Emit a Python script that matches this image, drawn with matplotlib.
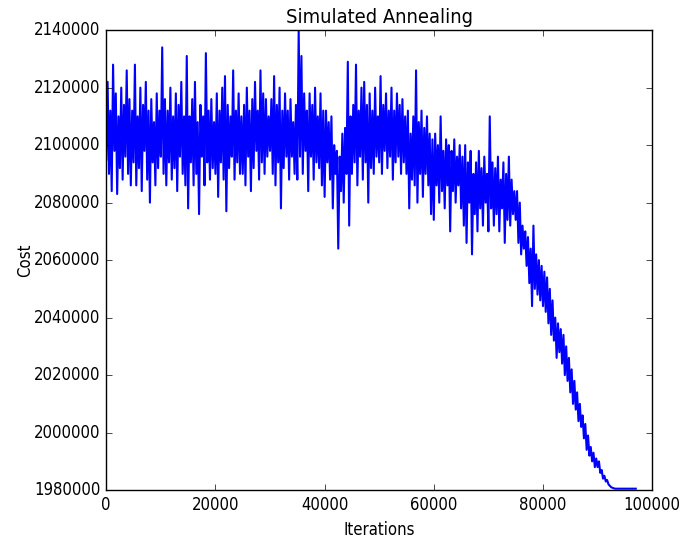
import matplotlib
matplotlib.use("Agg")
import matplotlib.pyplot as plt
import numpy as np

# cost in thousands, one reading every 250 iterations
iterations = np.arange(0, 97001, 250)
cost_k = [
    2095, 2122, 2090, 2112, 2084, 2128, 2098, 2118, 2083, 2110, 2092, 2120, 2088, 2114, 2096, 2126, 2090, 2116, 2086, 2112,
    2094, 2128, 2086, 2110, 2092, 2120, 2084, 2114, 2098, 2122, 2088, 2112, 2080, 2116, 2094, 2108, 2086, 2118, 2092, 2112,
    2096, 2134, 2090, 2116, 2086, 2112, 2094, 2120, 2088, 2110, 2092, 2118, 2084, 2114, 2096, 2122, 2090, 2110, 2086, 2131,
    2078, 2110, 2094, 2116, 2086, 2122, 2090, 2108, 2076, 2114, 2096, 2110, 2086, 2132, 2094, 2112, 2088, 2116, 2092, 2108,
    2090, 2118, 2082, 2112, 2094, 2120, 2088, 2124, 2077, 2114, 2092, 2110, 2096, 2126, 2088, 2112, 2094, 2118, 2090, 2110,
    2090, 2114, 2086, 2120, 2096, 2112, 2084, 2116, 2092, 2122, 2098, 2112, 2088, 2126, 2094, 2118, 2090, 2116, 2096, 2110,
    2098, 2116, 2090, 2124, 2086, 2114, 2094, 2120, 2078, 2112, 2092, 2118, 2096, 2112, 2088, 2116, 2096, 2108, 2090, 2114,
    2088, 2140, 2096, 2131, 2090, 2118, 2098, 2112, 2084, 2118, 2096, 2114, 2088, 2120, 2094, 2110, 2092, 2118, 2086, 2112,
    2082, 2112, 2094, 2108, 2088, 2110, 2078, 2100, 2090, 2098, 2064, 2096, 2084, 2104, 2080, 2106, 2090, 2129, 2072, 2110,
    2090, 2114, 2094, 2128, 2086, 2112, 2096, 2120, 2088, 2122, 2094, 2114, 2080, 2118, 2092, 2112, 2090, 2120, 2096, 2110,
    2094, 2124, 2090, 2114, 2098, 2118, 2092, 2112, 2096, 2120, 2088, 2112, 2094, 2118, 2096, 2114, 2090, 2116, 2094, 2110,
    2090, 2112, 2078, 2104, 2088, 2110, 2086, 2126, 2080, 2108, 2090, 2112, 2082, 2106, 2090, 2110, 2086, 2104, 2076, 2102,
    2074, 2104, 2086, 2100, 2080, 2110, 2084, 2098, 2078, 2102, 2086, 2100, 2070, 2098, 2084, 2102, 2080, 2096, 2086, 2100,
    2078, 2096, 2072, 2100, 2066, 2094, 2080, 2098, 2062, 2090, 2076, 2094, 2070, 2098, 2078, 2092, 2072, 2096, 2080, 2090,
    2070, 2110, 2078, 2094, 2072, 2092, 2076, 2096, 2070, 2088, 2078, 2094, 2066, 2090, 2074, 2096, 2072, 2088, 2076, 2084,
    2074, 2084, 2066, 2080, 2062, 2072, 2064, 2070, 2058, 2068, 2052, 2064, 2044, 2072, 2050, 2062, 2048, 2060, 2046, 2058,
    2044, 2056, 2042, 2054, 2038, 2050, 2034, 2046, 2032, 2040, 2026, 2038, 2028, 2036, 2024, 2034, 2020, 2030, 2018, 2026,
    2014, 2022, 2010, 2018, 2008, 2014, 2004, 2010, 2002, 2006, 1998, 2003, 1994, 1999, 1992, 1995, 1990, 1993, 1988, 1991,
    1988, 1990, 1986, 1987, 1984, 1985, 1983, 1983.5, 1982, 1981.5, 1981, 1980.8, 1980.6, 1980.5, 1980.5, 1980.5, 1980.5, 1980.5, 1980.5, 1980.5,
    1980.5, 1980.5, 1980.5, 1980.5, 1980.5, 1980.5, 1980.5, 1980.5, 1980.5,
]
cost = np.array(cost_k) * 1000

plt.style.use('classic')
plt.rcParams['font.family'] = 'DejaVu Sans'
plt.rcParams['font.stretch'] = 'condensed'

fig = plt.figure(figsize=(6.99, 5.38), dpi=100, facecolor='white')
ax = fig.add_axes([0.152, 0.089, 0.781, 0.855])
ax.plot(iterations, cost, color='b', linewidth=1.5)

ax.set_xlim(0, 100000)
ax.set_ylim(1980000, 2140000)
ax.set_xticks([0, 20000, 40000, 60000, 80000, 100000])
ax.set_yticks(range(1980000, 2140001, 20000))
ax.ticklabel_format(useOffset=False, style='plain')

ax.set_title('Simulated Annealing')
ax.set_xlabel('Iterations')
ax.set_ylabel('Cost', labelpad=0)

fig.savefig('out.png', dpi=100, facecolor='white')
